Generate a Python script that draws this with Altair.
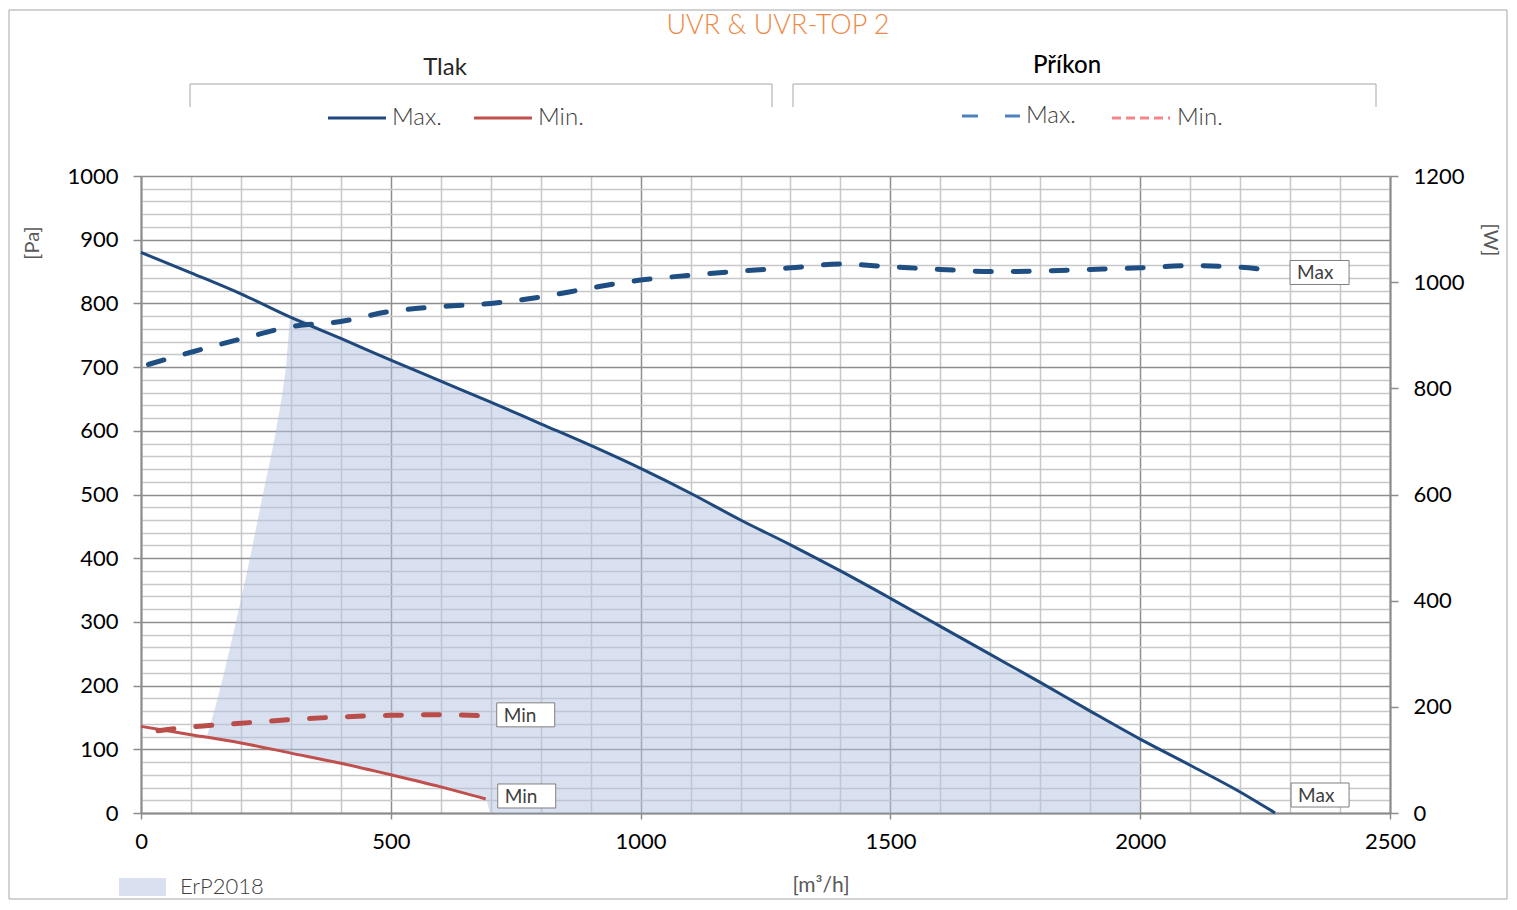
import altair as alt
import pandas as pd

# ---------------- data ----------------
q_max_pa = [0, 100, 200, 300, 400, 500, 600, 700, 800, 900, 1000, 1100, 1200, 1300,
            1400, 1500, 1600, 1700, 1800, 1900, 2000, 2100, 2200, 2270]
pa_max = [880, 848, 815, 778, 745, 711, 678, 645, 611, 577, 541, 502, 460, 421,
          380, 337, 293, 249, 205, 160, 116, 75, 33, 0]

q_min_pa = [0, 100, 200, 300, 400, 500, 600, 690]
pa_min = [136, 123, 110, 94, 78, 60, 41, 22]

q_max_w = [15, 100, 200, 300, 400, 500, 600, 700, 800, 900, 1000, 1100, 1200, 1300,
           1400, 1500, 1600, 1700, 1800, 1900, 2000, 2100, 2200, 2270]
w_max = [845, 868, 893, 916, 926, 945, 954, 960, 972, 989, 1004, 1013, 1021, 1027,
         1034, 1029, 1024, 1020, 1021, 1024, 1027, 1031, 1028, 1022]

q_min_w = [34, 100, 200, 300, 400, 500, 600, 690]
w_min = [155, 162, 169, 176, 181, 184, 185, 183]

erp_q = [132, 160, 190, 218, 244, 270, 290, 300, 400, 500, 600, 690,
         700, 800, 900, 1000, 1100, 1200, 1300, 1400, 1500, 1600, 1700, 1800, 1900, 2000]
erp_top = [120, 200, 300, 400, 500, 600, 700, 778, 745, 711, 678, 648,
           645, 611, 577, 541, 502, 460, 421, 380, 337, 293, 249, 205, 160, 116]
erp_bottom = [119, 115, 111, 107, 103, 99, 96, 94, 78, 60, 41, 22,
              0, 0, 0, 0, 0, 0, 0, 0, 0, 0, 0, 0, 0, 0]

x_ticks = list(range(0, 2501, 100))
pa_ticks = list(range(0, 1001, 20))
w_ticks = list(range(0, 1201, 200))

title_text = "UVR & UVR-TOP 2"
group_left = "Tlak"
group_right = "Příkon"
legend_max = "Max."
legend_min = "Min."
lbl_max = "Max"
lbl_min = "Min"
erp_label = "ErP2018"
x_title = "[m³/h]"
y_left_title = "[Pa]"
y_right_title = "[W]"

# ---------------- styling ----------------
FONT = "Lato"
C_MAX = "#1F497D"
C_MIN = "#C0504D"
C_MAXW = "#1F4E82"
C_MINW = "#B94D4A"
C_LEG_MAXW = "#4F81BD"
C_LEG_MINW = "#F4868A"
C_AREA = "#B3C2E0"
C_TXT = "#404040"
C_AX = "#8C8C8C"

one = pd.DataFrame({"k": [0]})

df_max_pa = pd.DataFrame({"q": q_max_pa, "v": pa_max})
df_min_pa = pd.DataFrame({"q": q_min_pa, "v": pa_min})
df_max_w = pd.DataFrame({"q": q_max_w, "v": w_max})
df_min_w = pd.DataFrame({"q": q_min_w, "v": w_min})
df_erp = pd.DataFrame({"q": erp_q, "top": erp_top, "bottom": erp_bottom})

XS = alt.Scale(domain=[0, 2500], nice=False, zero=False)
YS_PA = alt.Scale(domain=[0, 1000], nice=False)
YS_W = alt.Scale(domain=[0, 1200], nice=False)

XAX = alt.Axis(
    values=x_ticks, grid=True, format="d", title=None,
    gridColor=alt.condition("datum.value % 500 === 0", alt.value("#8E8E8E"), alt.value("#C8C8C8")),
    gridWidth=1.5,
    labelExpr="datum.value % 500 === 0 ? datum.label : ''",
    tickOpacity=alt.condition("datum.value % 500 === 0", alt.value(1), alt.value(0)),
    tickSize=6, tickColor=C_AX, tickWidth=1.5,
    domainColor=C_AX, domainWidth=2,
    labelFont=FONT, labelFontSize=22, labelColor="#000000", labelPadding=12,
    labelFlush=False, labelOverlap=False,
)
YAX_PA = alt.Axis(
    values=pa_ticks, grid=True, format="d", title=None, orient="left",
    gridColor=alt.condition("datum.value % 100 === 0", alt.value("#8E8E8E"), alt.value("#C8C8C8")),
    gridWidth=1.5,
    labelExpr="datum.value % 100 === 0 ? datum.label : ''",
    tickOpacity=alt.condition("datum.value % 100 === 0", alt.value(1), alt.value(0)),
    tickSize=8, tickColor=C_AX, tickWidth=1.5,
    domainColor=C_AX, domainWidth=2,
    labelFont=FONT, labelFontSize=22, labelColor="#000000", labelPadding=15,
    labelFlush=False, labelOverlap=False,
)
YAX_W = alt.Axis(
    values=w_ticks, grid=False, format="d", title=None, orient="right",
    tickSize=8, tickColor=C_AX, tickWidth=1.5,
    domainColor=C_AX, domainWidth=2,
    labelFont=FONT, labelFontSize=22, labelColor="#000000", labelPadding=15,
    labelFlush=False, labelOverlap=False,
)


def X():
    return alt.X("q:Q", scale=XS, axis=XAX)


def YP(field="v"):
    return alt.Y(f"{field}:Q", scale=YS_PA, axis=YAX_PA)


def YW():
    return alt.Y("v:Q", scale=YS_W, axis=YAX_W)


def txt(s, x, y, size, color, **kw):
    return alt.Chart(one).mark_text(text=s, fontSize=size, color=color, font=FONT, **kw).encode(
        x=alt.value(x), y=alt.value(y))


def rule(x1, x2, y1, y2, color, width, **kw):
    return alt.Chart(one).mark_rule(color=color, strokeWidth=width, **kw).encode(
        x=alt.value(x1), x2=alt.value(x2), y=alt.value(y1), y2=alt.value(y2))


def box_label(q, v, text, ychan, xo, x2o, yo, y2o):
    d = pd.DataFrame({"q": [q], "v": [v]})
    box = alt.Chart(d).mark_rect(
        fill="white", stroke="#7F7F7F", strokeWidth=1,
        xOffset=xo, x2Offset=x2o, yOffset=yo, y2Offset=y2o,
    ).encode(x=X(), x2="q:Q", y=ychan(), y2="v:Q")
    t = alt.Chart(d).mark_text(
        text=text, align="left", baseline="middle", font=FONT, fontSize=19, color=C_TXT,
        dx=xo + 7, dy=(yo + y2o) / 2 + 1,
    ).encode(x=X(), y=ychan())
    return box + t


# ---------------- data layers ----------------
area = alt.Chart(df_erp).mark_area(color=C_AREA, opacity=0.5, interpolate="monotone").encode(
    x=X(), y=YP("top"), y2="bottom:Q")

line_max_pa = alt.Chart(df_max_pa).mark_line(
    color=C_MAX, strokeWidth=3, interpolate="monotone").encode(x=X(), y=YP())
line_min_pa = alt.Chart(df_min_pa).mark_line(
    color=C_MIN, strokeWidth=3, interpolate="monotone").encode(x=X(), y=YP())

line_max_w = alt.Chart(df_max_w).mark_line(
    color=C_MAXW, strokeWidth=5, strokeDash=[16, 22], strokeCap="round", interpolate="monotone"
).encode(x=X(), y=YW())
line_min_w = alt.Chart(df_min_w).mark_line(
    color=C_MINW, strokeWidth=5, strokeDash=[16, 22], strokeCap="round", interpolate="monotone"
).encode(x=X(), y=YW())

lab_max_pa = box_label(q_max_pa[-1], pa_max[-1], lbl_max, YP, 16, 74, -30, -6)
lab_min_pa = box_label(q_min_pa[-1], pa_min[-1], lbl_min, YP, 12, 70, -15, 9)
lab_max_w = box_label(q_max_w[-1], w_max[-1], lbl_max, YW, 15, 74, -10, 14)
lab_min_w = box_label(q_min_w[-1], w_min[-1], lbl_min, YW, 11, 69, -13, 11)

# ---------------- decorations (page px - (141,176)) ----------------
frame = alt.Chart(one).mark_rect(filled=False, stroke="#A6A6A6", strokeWidth=1).encode(
    x=alt.value(-132), x2=alt.value(1366), y=alt.value(-166), y2=alt.value(723))

deco = [
    frame,
    txt(title_text, 637, -150, 27, "#EE8A45", fontWeight=300),
    txt(group_left, 304, -108, 24, "#262626"),
    txt(group_right, 926, -110, 24, "#000000", fontWeight=500),
    # brackets
    rule(49, 631, -92, -92, "#A6A6A6", 1),
    rule(49, 49, -92, -69, "#A6A6A6", 1),
    rule(631, 631, -92, -69, "#A6A6A6", 1),
    rule(652, 1235, -92, -92, "#A6A6A6", 1),
    rule(652, 652, -92, -69, "#A6A6A6", 1),
    rule(1235, 1235, -92, -69, "#A6A6A6", 1),
    # legend Tlak
    rule(187, 245, -58, -58, C_MAX, 3),
    txt(legend_max, 251, -58, 24, C_TXT, align="left", baseline="middle", fontWeight=300),
    rule(333, 391, -58, -58, C_MIN, 3),
    txt(legend_min, 397, -58, 24, C_TXT, align="left", baseline="middle", fontWeight=300),
    # legend Prikon
    rule(821, 879, -60, -60, C_LEG_MAXW, 3, strokeDash=[16, 27]),
    txt(legend_max, 885, -60, 24, C_TXT, align="left", baseline="middle", fontWeight=300),
    rule(971, 1029, -58, -58, C_LEG_MINW, 3, strokeDash=[9, 5]),
    txt(legend_min, 1036, -58, 24, C_TXT, align="left", baseline="middle", fontWeight=300),
    # axis titles
    txt(y_left_title, -108, 67, 20, "#595959", angle=270, baseline="middle"),
    txt(y_right_title, 1349, 64, 20, "#595959", angle=90, baseline="middle"),
    txt(x_title, 680, 710, 21, "#595959", baseline="middle"),
    # ErP legend
    alt.Chart(one).mark_rect(color="#D9E0EF").encode(
        x=alt.value(-22), x2=alt.value(25), y=alt.value(702), y2=alt.value(720)),
    txt(erp_label, 39, 711, 22, C_TXT, align="left", baseline="middle", fontWeight=300),
]

left = alt.layer(area, line_max_pa, line_min_pa, lab_max_pa, lab_min_pa, *deco)
right = alt.layer(line_max_w, line_min_w, lab_max_w, lab_min_w)

chart = alt.layer(left, right).resolve_scale(y="independent").properties(
    width=1249, height=637,
    autosize=alt.AutoSizeParams(type="none"),
    padding={"left": 133, "top": 168, "right": 118, "bottom": 87},
    background="white",
).configure_view(stroke="transparent")

chart.save("out.html", embed_options={"renderer": "svg", "actions": False})
